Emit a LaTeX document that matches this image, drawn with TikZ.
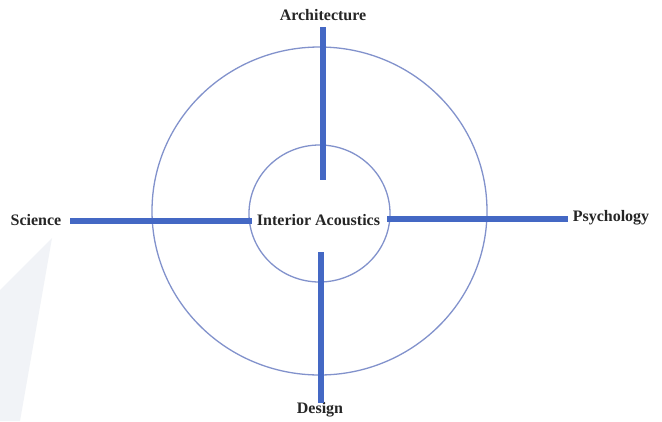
\documentclass[tikz,border=0pt]{standalone}
\usepackage{fontspec}
\setmainfont{Liberation Serif}
\definecolor{barblue}{RGB}{68,104,196}
\definecolor{ringblue}{RGB}{130,146,204}
\definecolor{wm}{RGB}{241,243,247}
\tikzset{
  bar/.style={line width=6pt, draw=barblue, line cap=butt},
  ring/.style={line width=1.3pt, draw=ringblue},
  lbl/.style={font=\bfseries\fontsize{16}{18}\selectfont, text=black!85, inner sep=0pt}
}
\begin{document}
\begin{tikzpicture}[x=1pt,y=-1pt]
\useasboundingbox (0,0) rectangle (662,421);
\fill[white] (0,0) rectangle (662,421);
% faint watermark
\fill[wm] (0,290) -- (52,238) -- (20,421) -- (0,421) -- cycle;
% rings
\draw[ring] (319.5,211) ellipse [x radius=167.5, y radius=164];
\draw[ring] (319.5,213.5) ellipse [x radius=70.5, y radius=68.5];
% labels
\node[lbl] (arch) at (323,15) {Architecture};
\node[lbl] (sci) at (36,220) {Science};
\node[lbl] (psy) at (611,218) {Psychology};
\node[lbl] (des) at (320,410) {Design};
\node[lbl] (ia) at (318.5,220) {Interior Acoustics};
% connector ends
\coordinate (aTop) at (322.5,27);
\coordinate (aBot) at (322.5,180);
\coordinate (dTop) at (320.5,252);
\coordinate (dBot) at (320.5,403);
\coordinate (sL) at (70,221);
\coordinate (sR) at (252,221);
\coordinate (pL) at (387,219);
\coordinate (pR) at (568,219);
% bars
\draw[bar] (aTop) -- (aBot);
\draw[bar] (dTop) -- (dBot);
\draw[bar] (sL) -- (sR);
\draw[bar] (pL) -- (pR);
\end{tikzpicture}
\end{document}
